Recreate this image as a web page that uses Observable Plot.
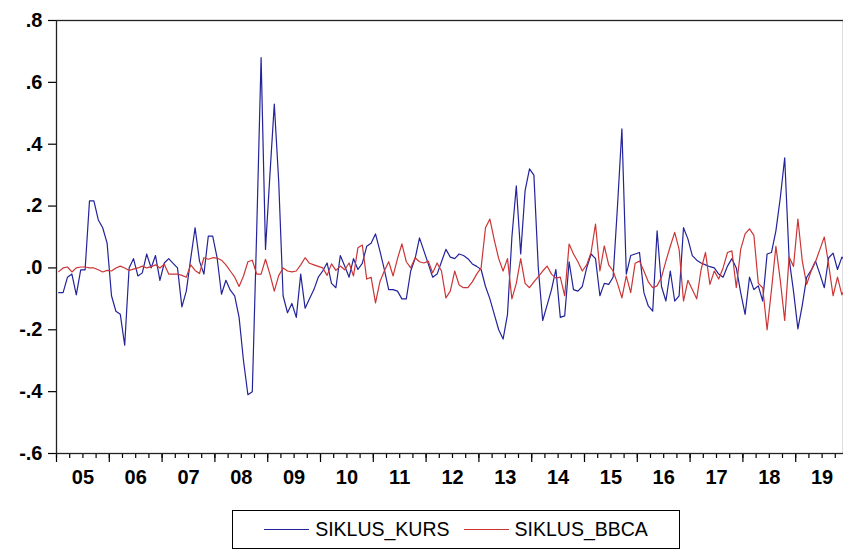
<!DOCTYPE html>
<html>
<head>
<meta charset="utf-8">
<script src="https://cdn.jsdelivr.net/npm/d3@7"></script>
<script src="https://cdn.jsdelivr.net/npm/@observablehq/plot@0.6"></script>
<style>
  html, body { margin: 0; padding: 0; background: #fff; }
  #wrap { position: relative; width: 843px; height: 551px; overflow: hidden; font-family: "Liberation Sans", Arial, sans-serif; }
  #chart { position: absolute; left: 0; top: 0; }
  #legend { position: absolute; left: 232px; top: 510px; width: 448px; height: 39px; box-sizing: border-box;
            border: 1px solid #000; display: flex; align-items: center; justify-content: center;
            font-size: 19.5px; color: #000; }
  #legend .item { display: flex; align-items: center; margin: 0 7px; }
  #legend .sw { display: inline-block; width: 45px; height: 0; border-top: 1px solid; margin-right: 6px; }
</style>
</head>
<body>
<div id="wrap">
  <div id="chart"></div>
  <div id="legend"></div>
</div>
<script>
// Monthly observations 2005M01 .. 2019M12
const seriesNames = ["SIKLUS_KURS", "SIKLUS_BBCA"];
const seriesColors = ["#23239a", "#cc3535"];
const yearLabels = ["05","06","07","08","09","10","11","12","13","14","15","16","17","18","19"];
const yTicks = [-0.6, -0.4, -0.2, 0.0, 0.2, 0.4, 0.6, 0.8];

const siklusKurs = [
  -0.08, -0.08, -0.03, -0.02, -0.087, -0.006, -0.006, 0.217, 0.217, 0.155, 0.13, 0.08,
  -0.09, -0.14, -0.15, -0.25, 0.0, 0.03, -0.026, -0.016, 0.045, 0.0, 0.04, -0.04,
  0.016, 0.03, 0.015, 0.0, -0.126, -0.075, 0.03, 0.13, 0.022, -0.02, 0.103, 0.103,
  0.033, -0.085, -0.04, -0.072, -0.09, -0.16, -0.3, -0.41, -0.40, 0.12, 0.68, 0.06,
  0.30, 0.53, 0.28, -0.09, -0.145, -0.115, -0.16, -0.02, -0.13, -0.1, -0.07, -0.03,
  -0.01, 0.016, -0.05, -0.064, 0.04, 0.006, -0.03, 0.03, -0.005, 0.015, 0.07, 0.08,
  0.11, 0.055, -0.005, -0.07, -0.07, -0.075, -0.1, -0.1, -0.01, 0.03, 0.097, 0.055,
  0.013, -0.03, -0.02, 0.02, 0.06, 0.035, 0.03, 0.045, 0.04, 0.03, 0.013, 0.005,
  -0.005, -0.06, -0.1, -0.15, -0.2, -0.23, -0.15, 0.1, 0.265, 0.045, 0.25, 0.32,
  0.30, 0.0, -0.17, -0.12, -0.07, -0.005, -0.16, -0.155, 0.02, -0.07, -0.075, -0.06,
  0.0, 0.045, 0.03, -0.09, -0.05, -0.053, -0.03, 0.2, 0.45, -0.02, 0.04, 0.045,
  0.05, -0.08, -0.123, -0.14, 0.12, -0.06, -0.107, -0.01, -0.107, -0.09, 0.13, 0.094,
  0.04, 0.025, 0.016, 0.01, 0.004, 0.0, -0.02, -0.03, 0.006, 0.03, 0.0, -0.08,
  -0.15, -0.03, -0.07, -0.058, -0.107, 0.045, 0.05, 0.12, 0.227, 0.356, 0.03, -0.075,
  -0.197, -0.12, -0.03, -0.008, 0.022, -0.02, -0.064, 0.033, 0.048, -0.005, 0.035, 0.022
];

const siklusBbca = [
  -0.012, 0.0, 0.003, -0.013, 0.0, 0.003, 0.003, 0.0, 0.0, -0.006, -0.013, -0.008,
  -0.01, 0.0, 0.006, 0.0, -0.008, -0.004, 0.0, 0.006, 0.0, 0.004, 0.01, 0.0,
  0.012, -0.02, -0.02, -0.02, -0.024, -0.03, 0.01, -0.008, -0.018, 0.033, 0.028, 0.033,
  0.032, 0.025, 0.01, -0.01, -0.03, -0.06, -0.026, 0.02, 0.025, -0.02, -0.02, 0.028,
  -0.02, -0.075, -0.025, 0.0, -0.01, -0.013, -0.01, 0.01, 0.033, 0.015, 0.01, 0.005,
  0.0, -0.024, 0.013, -0.008, 0.006, -0.006, 0.016, -0.026, 0.065, 0.074, -0.036, -0.03,
  -0.113, -0.045, -0.01, 0.02, -0.026, 0.03, 0.078, 0.02, 0.0, 0.033, 0.02, 0.016,
  0.022, -0.016, 0.016, -0.01, -0.097, -0.075, -0.01, -0.055, -0.064, -0.064, -0.045, -0.02,
  0.0, 0.13, 0.158, 0.09, 0.03, -0.01, 0.03, -0.1, -0.05, 0.03, -0.05, -0.064,
  -0.045, -0.028, -0.01, 0.006, -0.02, -0.033, -0.03, -0.09, 0.077, 0.045, 0.02, -0.01,
  0.01, 0.05, 0.142, -0.01, 0.071, 0.01, -0.01, -0.05, -0.097, -0.026, -0.08, 0.015,
  0.022, -0.01, -0.045, -0.064, -0.058, -0.03, 0.022, 0.07, 0.115, 0.06, -0.107, -0.04,
  -0.07, -0.1, -0.005, 0.05, -0.053, -0.01, -0.036, 0.0, 0.05, 0.055, -0.064, 0.06,
  0.11, 0.126, 0.105, -0.05, -0.064, -0.2, -0.07, 0.07, -0.04, -0.17, 0.035, 0.005,
  0.158, 0.022, -0.053, -0.01, 0.02, 0.06, 0.1, 0.01, -0.09, -0.03, -0.087, -0.06
];

// Month index -> position (observations drawn at mid-month, year boundaries at multiples of 12)
const rows = [];
siklusKurs.forEach((v, i) => rows.push({t: i + 0.5, v, s: seriesNames[0]}));
siklusBbca.forEach((v, i) => rows.push({t: i + 0.5, v, s: seriesNames[1]}));

const yearStarts = yearLabels.map((_, k) => k * 12);
const yearMids = yearLabels.map((_, k) => k * 12 + 6);
const quarterTicks = d3.range(0, yearLabels.length * 12 + 1, 3);

const fmtY = d => (d < 0 ? "-" : "") + "." + Math.round(Math.abs(d) * 10);

const chart = Plot.plot({
  width: 843,
  height: 492,
  marginTop: 20,
  marginLeft: 56,
  marginRight: 0,
  marginBottom: 39,
  style: {fontFamily: "'Liberation Sans', Arial, sans-serif", color: "#000", background: "transparent", overflow: "visible"},
  x: {domain: [0, 180], range: [56, 848]},
  y: {domain: [-0.6, 0.8], range: [453, 20]},
  color: {domain: seriesNames, range: seriesColors},
  marks: [
    Plot.axisY({ticks: yTicks, tickSize: 8, tickPadding: 6, tickFormat: fmtY, label: null,
                fontSize: 20, fontWeight: "bold", stroke: "#000", strokeWidth: 1.2}),
    Plot.axisX({ticks: quarterTicks, tickSize: 5, tickFormat: () => "", label: null, stroke: "#000", strokeWidth: 1.2}),
    Plot.axisX({ticks: yearStarts, tickSize: 9, tickFormat: () => "", label: null, stroke: "#000", strokeWidth: 1.2}),
    Plot.axisX({ticks: yearMids, tickSize: 0, tickPadding: 16, tickFormat: (d, i) => yearLabels[i], label: null,
                fontSize: 20, fontWeight: "bold"}),
    Plot.frame({stroke: "#222", strokeWidth: 1.3}),
    Plot.lineY(rows.filter(d => d.s === seriesNames[0]), {x: "t", y: "v", stroke: "s", strokeWidth: 1.2}),
    Plot.lineY(rows.filter(d => d.s === seriesNames[1]), {x: "t", y: "v", stroke: "s", strokeWidth: 1.2})
  ]
});
document.getElementById("chart").appendChild(chart);

const legend = document.getElementById("legend");
seriesNames.forEach((name, k) => {
  const item = document.createElement("span");
  item.className = "item";
  const sw = document.createElement("span");
  sw.className = "sw";
  sw.style.borderTopColor = seriesColors[k];
  const label = document.createElement("span");
  label.textContent = name;
  item.appendChild(sw);
  item.appendChild(label);
  legend.appendChild(item);
});
</script>
</body>
</html>
